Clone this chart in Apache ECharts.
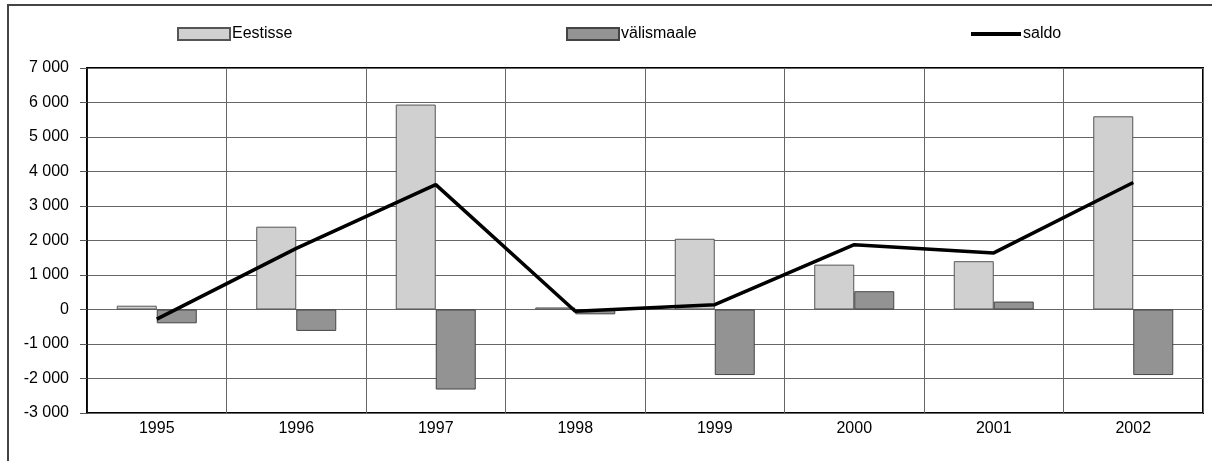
<!DOCTYPE html>
<html>
<head>
<meta charset="utf-8">
<script src="https://cdn.jsdelivr.net/npm/echarts@6/dist/echarts.min.js"></script>
<style>
  html, body { margin: 0; padding: 0; background: #fff; }
  #chart01 { width: 1212px; height: 461px; }
</style>
</head>
<body>
<div id="chart01"></div>
<script>
// andmed
var years = ["1995", "1996", "1997", "1998", "1999", "2000", "2001", "2002"];
var eestisse = [110, 2400, 5940, 60, 2050, 1300, 1400, 5600];
var valismaale = [-400, -620, -2320, -140, -1900, 530, 230, -1900];
var saldo = [-280, 1770, 3620, -50, 140, 1880, 1640, 3680];

var font = "Liberation Sans, Arial, sans-serif";
var fs = 16;

function fmt(v) {
    var s = String(Math.abs(v)).replace(/\B(?=(\d{3})+(?!\d))/g, " ");
    return (v < 0 ? "-" : "") + s;
}

var myChart01 = echarts.init(document.getElementById('chart01'));
var option = {
    animation: false,
    backgroundColor: "#fff",
    textStyle: { fontFamily: font },
    graphic: [{
        type: "rect",
        shape: { x: 8, y: 5, width: 1230, height: 480 },
        style: { fill: "none", stroke: "#444", lineWidth: 2 },
        silent: true
    }],
    legend: [
        {
            data: [{ name: "Eestisse", icon: "rect" }], left: 172, top: 21, itemWidth: 52, itemHeight: 12,
            textStyle: { fontFamily: font, fontSize: fs, color: "#000", padding: [0, 0, 0, -3] }
        },
        {
            data: [{ name: "välismaale", icon: "rect" }], left: 561, top: 21, itemWidth: 52, itemHeight: 12,
            textStyle: { fontFamily: font, fontSize: fs, color: "#000", padding: [0, 0, 0, -3] }
        },
        {
            data: [{ name: "saldo", icon: "rect" }], left: 966, top: 21, itemWidth: 50, itemHeight: 4,
            textStyle: { fontFamily: font, fontSize: fs, color: "#000", padding: [0, 0, 0, -3] }
        }
    ],
    grid: {
        left: 87, right: 9, top: 68, bottom: 48,
        show: true, borderColor: "#000", borderWidth: 2
    },
    xAxis: {
        type: "category",
        data: years,
        boundaryGap: true,
        axisLine: { show: false },
        axisTick: { show: false },
        axisLabel: { fontFamily: font, fontSize: fs, color: "#000", margin: 8 },
        splitLine: { show: true, interval: 0, lineStyle: { color: "#666", width: 1 } }
    },
    yAxis: {
        type: "value",
        min: -3000, max: 7000, interval: 1000,
        axisLine: { show: true, lineStyle: { color: "#000", width: 1.5 } },
        axisTick: { show: true, length: 7, lineStyle: { color: "#555" } },
        axisLabel: { fontFamily: font, fontSize: fs, color: "#000", margin: 18, formatter: fmt },
        splitLine: { show: true, lineStyle: { color: "#666", width: 1 } }
    },
    series: [
        {
            name: "Eestisse", type: "bar", data: eestisse,
            barWidth: 40, barGap: "0%",
            itemStyle: { color: "#d0d0d0", borderColor: "#555", borderWidth: 1 }
        },
        {
            name: "välismaale", type: "bar", data: valismaale,
            barWidth: 40, barGap: "0%",
            itemStyle: { color: "#939393", borderColor: "#444", borderWidth: 1 }
        },
        {
            name: "saldo", type: "line", data: saldo,
            symbol: "none",
            lineStyle: { color: "#000", width: 3.5 },
            itemStyle: { color: "#000" },
            z: 5
        }
    ]
};
myChart01.setOption(option);
</script>
</body>
</html>
